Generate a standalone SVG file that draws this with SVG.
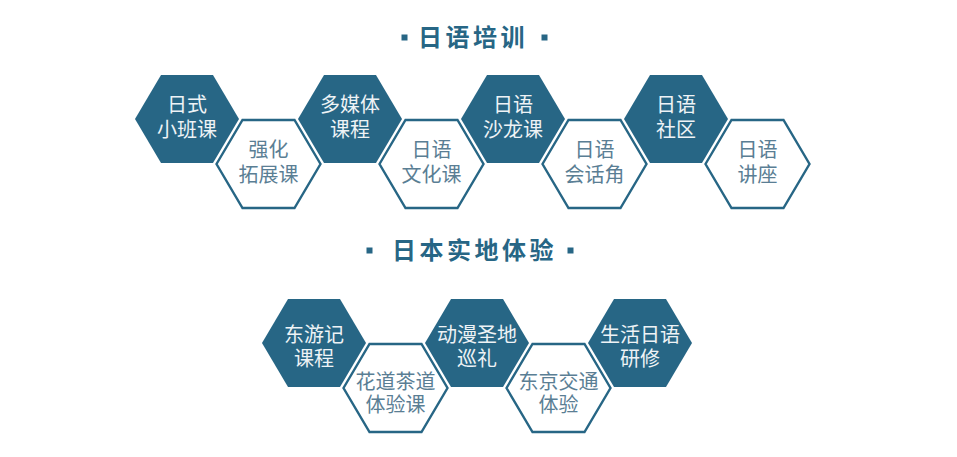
<svg xmlns="http://www.w3.org/2000/svg" xmlns:xlink="http://www.w3.org/1999/xlink" width="957" height="457" viewBox="0 0 957 457">
<style>
.dark{fill:#276685;}
.out{fill:#ffffff;stroke:#276685;stroke-width:2.4;stroke-linejoin:miter;}
.title{font-family:"Liberation Sans","Noto Sans CJK SC",sans-serif;font-size:24px;font-weight:bold;fill:#276685;letter-spacing:3.5px;}
.tw{font-family:"Liberation Sans","Noto Sans CJK SC",sans-serif;font-size:20px;fill:#eef3f6;text-anchor:middle;}
.tb{font-family:"Liberation Sans","Noto Sans CJK SC",sans-serif;font-size:20px;fill:#5a7e94;text-anchor:middle;}
.sq{fill:#276685;}
</style>
<defs>
<polygon id="hex" points="-52,0 -26,-44 26,-44 52,0 26,44 -26,44"/>
</defs>
<rect width="957" height="457" fill="#ffffff"/>
<g id="title1">
<rect class="sq" x="401.5" y="34.5" width="6" height="6"/>
<text class="title" x="418" y="46">日语培训</text>
<rect class="sq" x="541.5" y="34.5" width="6" height="6"/>
</g>
<g id="title2">
<rect class="sq" x="366.5" y="247.5" width="6" height="6"/>
<text class="title" x="392" y="259">日本实地体验</text>
<rect class="sq" x="567.5" y="247.5" width="6" height="6"/>
</g>
<g id="connectors"></g>
<g id="n1"><use xlink:href="#hex" class="dark" transform="translate(187,119)"/><text class="tw" x="187" y="112">日式<tspan x="187" dy="25">小班课</tspan></text></g>
<g id="n3"><use xlink:href="#hex" class="dark" transform="translate(350,119)"/><text class="tw" x="350" y="112">多媒体<tspan x="350" dy="25">课程</tspan></text></g>
<g id="n5"><use xlink:href="#hex" class="dark" transform="translate(513,119)"/><text class="tw" x="513" y="112">日语<tspan x="513" dy="25">沙龙课</tspan></text></g>
<g id="n7"><use xlink:href="#hex" class="dark" transform="translate(676,119)"/><text class="tw" x="676" y="112">日语<tspan x="676" dy="25">社区</tspan></text></g>
<g id="n2"><use xlink:href="#hex" class="out" transform="translate(268.5,164)"/><text class="tb" x="268.5" y="157">强化<tspan x="268.5" dy="25">拓展课</tspan></text></g>
<g id="n4"><use xlink:href="#hex" class="out" transform="translate(431.5,164)"/><text class="tb" x="431.5" y="157">日语<tspan x="431.5" dy="25">文化课</tspan></text></g>
<g id="n6"><use xlink:href="#hex" class="out" transform="translate(594.5,164)"/><text class="tb" x="594.5" y="157">日语<tspan x="594.5" dy="25">会话角</tspan></text></g>
<g id="n8"><use xlink:href="#hex" class="out" transform="translate(757.5,164)"/><text class="tb" x="757.5" y="157">日语<tspan x="757.5" dy="25">讲座</tspan></text></g>
<g id="m1"><use xlink:href="#hex" class="dark" transform="translate(314,343)"/><text class="tw" x="314" y="342">东游记<tspan x="314" dy="24">课程</tspan></text></g>
<g id="m3"><use xlink:href="#hex" class="dark" transform="translate(477,343)"/><text class="tw" x="477" y="342">动漫圣地<tspan x="477" dy="24">巡礼</tspan></text></g>
<g id="m5"><use xlink:href="#hex" class="dark" transform="translate(640,343)"/><text class="tw" x="640" y="342">生活日语<tspan x="640" dy="24">研修</tspan></text></g>
<g id="m2"><use xlink:href="#hex" class="out" transform="translate(395.5,388)"/><text class="tb" x="395.5" y="389">花道茶道<tspan x="395.5" dy="23">体验课</tspan></text></g>
<g id="m4"><use xlink:href="#hex" class="out" transform="translate(558.5,388)"/><text class="tb" x="558.5" y="389">东京交通<tspan x="558.5" dy="23">体验</tspan></text></g>
</svg>
